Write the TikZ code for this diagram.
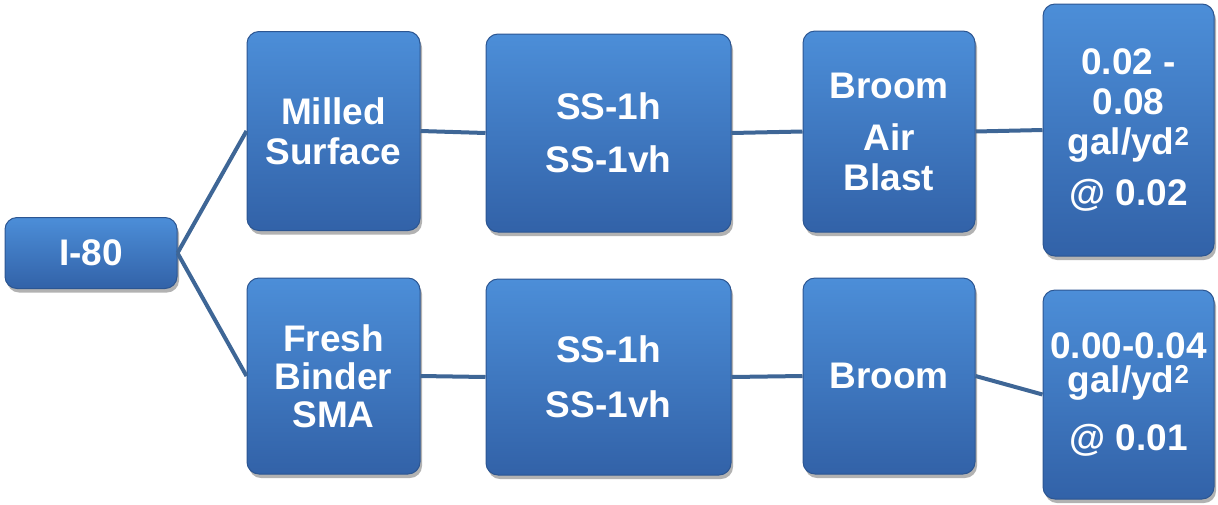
\documentclass[tikz,border=0pt]{standalone}
\usepackage{fontspec}
\setmainfont{Liberation Sans}
\usetikzlibrary{shadows}
\definecolor{boxtop}{RGB}{76,142,216}
\definecolor{boxbot}{RGB}{50,98,168}
\definecolor{boxedge}{RGB}{44,86,146}
\definecolor{linkc}{RGB}{62,102,150}
\begin{document}
\begin{tikzpicture}[x=1pt,y=-1pt,
  box/.style={rectangle, rounded corners=12pt, draw=boxedge, line width=1pt,
    top color=boxtop, bottom color=boxbot,
    drop shadow={shadow xshift=2pt, shadow yshift=-4pt, opacity=0.3, fill=black},
    font=\fontsize{37}{40}\selectfont\bfseries, text=white, align=center, inner sep=0pt},
  link/.style={draw=linkc, line width=4pt}]
\useasboundingbox (0,0) rectangle (1218,504);

\node[box, minimum width=172pt, minimum height=71pt] (i80) at (91,253) {I-80};

\node[box, minimum width=173pt, minimum height=199pt] (milled) at (333.5,131) {Milled\\Surface};
\node[box, minimum width=245pt, minimum height=198pt] (ss1) at (608.5,133) {SS-1h\\[13pt]SS-1vh};
\node[box, minimum width=172pt, minimum height=201pt] (broom1) at (889,131.5) {Broom\\[12pt]Air\\Blast};
\node[box, minimum width=171pt, minimum height=252pt] (rate1) at (1128.5,130) {0.02 -\\0.08\\gal/yd\textsuperscript{2}\\[11pt]@ 0.02};

\node[box, minimum width=173pt, minimum height=196pt] (fresh) at (333.5,376) {Fresh\\[-2pt]Binder\\[-2pt]SMA};
\node[box, minimum width=245pt, minimum height=196pt] (ss2) at (608.5,377) {SS-1h\\[15pt]SS-1vh};
\node[box, minimum width=172pt, minimum height=196pt] (broom2) at (889,376) {Broom};
\node[box, minimum width=171pt, minimum height=209pt, font=\fontsize{37}{34}\selectfont\bfseries] (rate2) at (1128.5,394.5) {0.00-0.04\\gal/yd\textsuperscript{2}\\[23pt]@ 0.01};

\draw[link] (i80.east) -- (milled.west);
\draw[link] (i80.east) -- (fresh.west);
\draw[link] (milled.east) -- (ss1.west);
\draw[link] (ss1.east) -- (broom1.west);
\draw[link] (broom1.east) -- (rate1.west);
\draw[link] (fresh.east) -- (ss2.west);
\draw[link] (ss2.east) -- (broom2.west);
\draw[link] (broom2.east) -- (rate2.west);
\end{tikzpicture}
\end{document}
